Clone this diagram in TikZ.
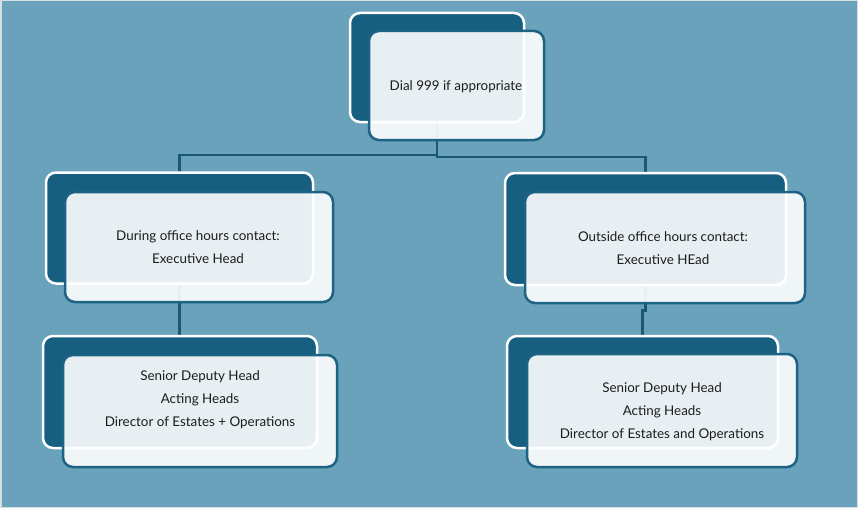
\documentclass[tikz,border=0pt]{standalone}
\usepackage{fontspec}
\setmainfont{Lato}
\usetikzlibrary{calc}
\pgfdeclarelayer{bg}
\pgfsetlayers{bg,main}
\begin{document}
\begin{tikzpicture}[x=1pt,y=-1pt,
  backbox/.style={draw=white,line width=2.5pt,fill=boxdark,rounded corners=10pt,inner sep=0pt},
  frontbox/.style={draw=boxedge,line width=2.5pt,fill=white,fill opacity=0.9,rounded corners=10pt,inner sep=0pt},
  label/.style={align=center,text=textdark,inner sep=0pt,font=\fontsize{13.4}{23}\selectfont},
  link/.style={draw=linecol,line width=2.5pt}]
\definecolor{bgcol}{HTML}{6AA1BB}
\definecolor{boxdark}{HTML}{175F80}
\definecolor{boxedge}{HTML}{1D6384}
\definecolor{linecol}{HTML}{1B5877}
\definecolor{textdark}{HTML}{1C1C1C}
\definecolor{rimcol}{HTML}{D5DEE3}
\useasboundingbox (0,0) rectangle (858,508);
\begin{pgfonlayer}{bg}
\fill[bgcol] (0,0) rectangle (858,508);
\draw[rimcol,line width=1.5pt] (0.75,0.75) rectangle (857.25,507.25);
\end{pgfonlayer}
% back boxes
\node[backbox,minimum width=174pt,minimum height=109pt] (tb) at (437,67.5) {};
\node[backbox,minimum width=267pt,minimum height=111pt] (lmb) at (179.5,228) {};
\node[backbox,minimum width=281pt,minimum height=112pt] (rmb) at (645.5,229) {};
\node[backbox,minimum width=274pt,minimum height=112pt] (lbb) at (180,392) {};
\node[backbox,minimum width=271pt,minimum height=112pt] (rbb) at (642.5,392) {};
% front boxes
\node[frontbox,minimum width=175pt,minimum height=109pt] (tf) at (456.5,85.5) {};
\node[frontbox,minimum width=268pt,minimum height=110pt] (lmf) at (199,247) {};
\node[frontbox,minimum width=280pt,minimum height=111pt] (rmf) at (665,247.5) {};
\node[frontbox,minimum width=274pt,minimum height=112pt] (lbf) at (200,411) {};
\node[frontbox,minimum width=270pt,minimum height=113pt] (rbf) at (662,410.5) {};
% texts
\node[label] (tt) at (456,86.5) {Dial 999 if appropriate};
\node[label] (lmt) at (198,247) {During office hours contact:\\Executive Head};
\node[label] (rmt) at (663,248) {Outside office hours contact:\\Executive HEad};
\node[label] (lbt) at (200,399.5) {Senior Deputy Head\\Acting Heads\\Director of Estates + Operations};
\node[label] (rbt) at (662,411.5) {Senior Deputy Head\\Acting Heads\\Director of Estates and Operations};
% connectors
\coordinate (jl) at (437,155);
\coordinate (jr) at (437,157);
\begin{pgfonlayer}{bg}
\draw[link] (tb.center) -- (jl) -| (lmb.center);
\draw[link] (tb.center) -- (jr) -| (rmb.center);
\draw[link] (lmb.center) -- (lmb.center |- lbb.center);
\draw[link] (rmb.center) |- ($(rbb.north)!0.5!(rmb.south)$) -| (rbb.center);
\end{pgfonlayer}
\end{tikzpicture}
\end{document}
